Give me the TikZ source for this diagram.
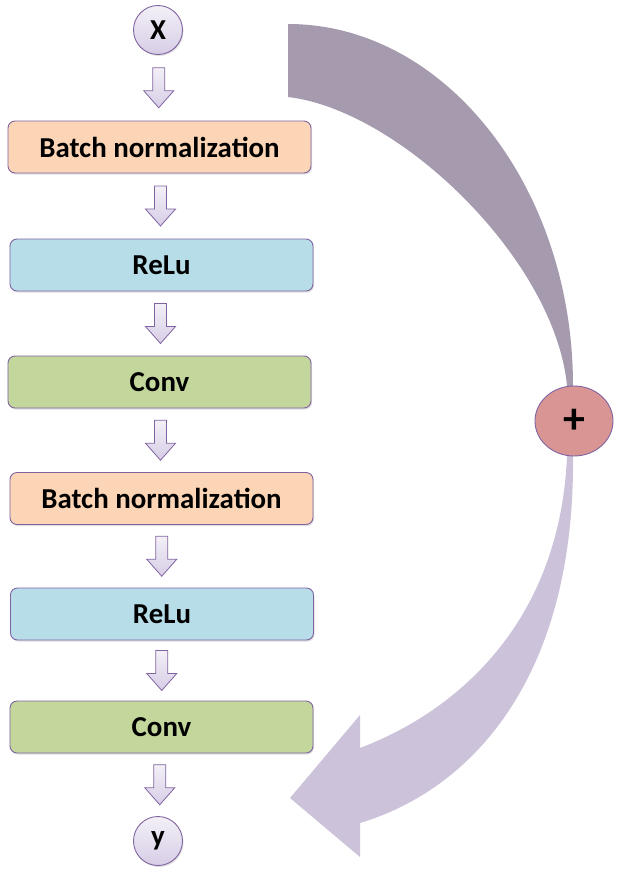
\documentclass[tikz,border=0pt]{standalone}
\usepackage{fontspec}
\setmainfont{Carlito}
\usetikzlibrary{shapes.geometric,shadows,calc}
\definecolor{edgepurple}{HTML}{8064A2}
\definecolor{bnfill}{HTML}{FBD5B5}
\definecolor{relufill}{HTML}{B7DDE8}
\definecolor{convfill}{HTML}{C3D69B}
\definecolor{lavtop}{HTML}{F3F0F7}
\definecolor{lavbot}{HTML}{D7CDE6}
\definecolor{plusfill}{HTML}{D99594}
\definecolor{skipdark}{HTML}{A59AAE}
\definecolor{skiplight}{HTML}{CCC2DA}
\tikzset{
  layerbox/.style={rectangle, rounded corners=7bp, draw=edgepurple, line width=0.9bp,
    minimum width=303bp, minimum height=52bp, inner sep=0pt,
    drop shadow={shadow xshift=1bp, shadow yshift=-1.5bp, opacity=0.25}},
  ionode/.style={circle, draw=edgepurple, line width=0.9bp, minimum size=49bp, inner sep=0pt,
    top color=lavtop, bottom color=lavbot,
    drop shadow={shadow xshift=1bp, shadow yshift=-1.5bp, opacity=0.25}},
  sumnode/.style={ellipse, draw=edgepurple, line width=0.9bp, fill=plusfill,
    minimum width=78bp, minimum height=70bp, inner sep=0pt,
    font=\fontsize{44}{44}\selectfont\bfseries},
  blockarr/.style={draw=edgepurple, line width=0.8bp, top color=lavtop, bottom color=lavbot, line join=miter},
}
\newcommand\blockdown[2]{%
  \path ($(#1.south)!0.5!(#2.north)$) coordinate (bm);
  \path[blockarr] ([shift={(-6,-20)}]bm) -- ([shift={(6,-20)}]bm) -- ([shift={(6,3)}]bm)
    -- ([shift={(15,3)}]bm) -- ([shift={(0,20)}]bm) -- ([shift={(-15,3)}]bm)
    -- ([shift={(-6,3)}]bm) -- cycle;}
\begin{document}
\begin{tikzpicture}[x=1bp,y=-1bp,font=\fontsize{29}{32}\selectfont\bfseries]
\useasboundingbox (0,0) rectangle (620,879);

% nodes
\node[ionode] (x) at (158,30) {X};
\node[layerbox, fill=bnfill] (bn1) at (159.5,147) {Batch normalization};
\node[layerbox, fill=relufill] (relu1) at (161.5,265) {ReLu};
\node[layerbox, fill=convfill] (conv1) at (159.5,382) {Conv};
\node[layerbox, fill=bnfill] (bn2) at (161.5,498.5) {Batch normalization};
\node[layerbox, fill=relufill] (relu2) at (162,614) {ReLu};
\node[layerbox, fill=convfill] (conv2) at (161.5,727) {Conv};
\node[ionode] (y) at (158,841) {y};

% skip connection
\coordinate (skiptop) at (288,24);
\coordinate (skipbot) at (288,97);
\coordinate (skiptip) at (290,798);
\coordinate (plusn) at (574,386);
\coordinate (pluss) at (574,456);
\fill[skipdark] (skiptop) .. controls (445,24) and (573,187) .. ([xshift=-1]plusn)
  -- ([xshift=-7]plusn) .. controls (555,260) and (400,110) .. (skipbot) -- cycle;
\fill[skiplight] ([xshift=-1]pluss) .. controls (575,680) and (470,790) .. (360,823)
  -- (360,857) -- (skiptip) -- (360,715) -- (360,748)
  .. controls (460,710) and (560,620) .. ([xshift=-7]pluss) -- cycle;
\node[sumnode] (plus) at (574,421) {+};

% block arrows
\blockdown{x}{bn1}
\blockdown{bn1}{relu1}
\blockdown{relu1}{conv1}
\blockdown{conv1}{bn2}
\blockdown{bn2}{relu2}
\blockdown{relu2}{conv2}
\blockdown{conv2}{y}
\end{tikzpicture}
\end{document}
